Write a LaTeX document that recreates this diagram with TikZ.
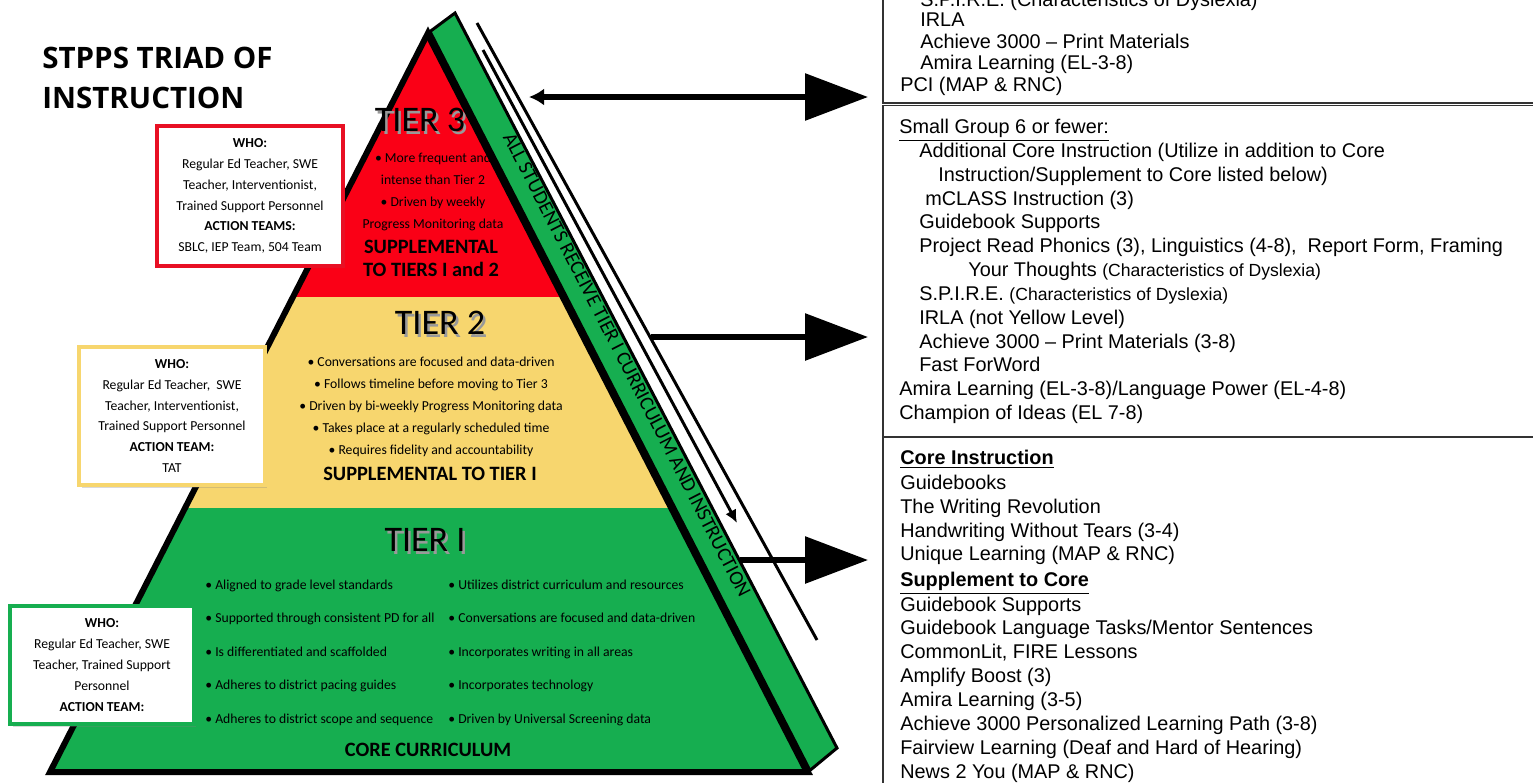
\documentclass[tikz,border=0pt]{standalone}
\usepackage{fontspec}
\setmainfont{Liberation Sans}
\newfontfamily\gillfont{Carlito}
\newfontfamily\headfont{Open Sans}
\usetikzlibrary{arrows.meta, shadows}

\definecolor{tierRed}{RGB}{250,0,22}
\definecolor{tierYellow}{RGB}{247,214,110}
\definecolor{tierGreen}{RGB}{22,174,80}
\definecolor{boxRed}{RGB}{232,16,36}

\tikzset{
    listtext/.style={anchor=west, inner sep=0pt, text height=0.72em, text depth=0pt, font=\fontsize{11.3}{13}\selectfont},
    whobox/.style={draw, line width=2.3pt, fill=white, align=center, inner sep=0pt, font=\gillfont\fontsize{7.8}{11.9}\selectfont, drop shadow={opacity=0.3, shadow xshift=0.05cm, shadow yshift=-0.05cm}},
    tiertext/.style={align=center, inner sep=0pt, font=\gillfont\fontsize{7.8}{12.6}\selectfont},
    tierlist/.style={anchor=west, inner sep=0pt, text height=0.72em, text depth=0pt, font=\gillfont\fontsize{7.8}{12}\selectfont},
    tierhead/.style={align=center, inner sep=0pt, font=\gillfont\bfseries\fontsize{11.6}{13.2}\selectfont},
    tierlabel/.style={inner sep=0pt, font=\gillfont\fontsize{20.5}{22}\selectfont},
    bandtext/.style={inner sep=0pt, font=\gillfont\fontsize{11.5}{12}\selectfont},
    bigarrow/.style={line width=3.4pt, -{Triangle[length=1.26cm, width=0.92cm]}},
    thinline/.style={line width=1.7pt},
    listbox/.style={line width=0.85pt, draw=black!80},
}

\newcommand{\listLine}[5][]{
    \node[listtext, #1] (#4) at (#2, #3) {#5};
}
\newcommand{\tierLabel}[4]{
    \node[tierlabel, text=black!40] (#3shade) at ([xshift=0.05cm, yshift=-0.05cm]#1, #2) {#4};
    \node[tierlabel] (#3) at (#1, #2) {#4};
}

\begin{document}
\begin{tikzpicture}[x=0.02cm, y=-0.02cm]
	\useasboundingbox (0,0) rectangle (1533,782);
	\clip (0,0) rectangle (1533,782);

	% pyramid corners
	\coordinate (apex) at (428,33);
	\coordinate (baseL) at (50,772);
	\coordinate (baseR) at (808,772);
	\coordinate (bandTop) at (455,13);
	\coordinate (bandBottom) at (837,748);

	% tiers
	\fill[tierRed] (apex) -- (564,297) -- (293,297) -- cycle;
	\fill[tierYellow] (293,297) -- (564,297) -- (672,508) -- (185,508) -- cycle;
	\fill[tierGreen] (185,508) -- (672,508) -- (baseR) -- (baseL) -- cycle;

	% side band
	\filldraw[fill=tierGreen, draw=black, line width=1.7pt, line join=miter] (apex) -- (bandTop) -- (bandBottom) -- (baseR) -- cycle;
	\draw[line width=3.4pt, line join=miter] (baseR) -- (baseL) -- (apex) -- cycle;
	\draw[line width=4.5pt] (apex) -- (baseR);
	\node[bandtext, rotate=-62.8] (bandLabel) at (627,365) {ALL STUDENTS RECEIVE TIER I CURRICULUM AND INSTRUCTION};

	% double line beside the band
	\coordinate (outerTop) at (477,23);
	\coordinate (outerBottom) at (817,640);
	\coordinate (innerTop) at (483,50);
	\coordinate (innerBottom) at (737,523);
	\draw[thinline] (outerTop) -- (outerBottom);
	\draw[thinline, -{Latex[length=0.26cm, width=0.24cm]}] (innerTop) -- (innerBottom);

	% title
	\node[anchor=base west, inner sep=0pt, font=\headfont\bfseries\fontsize{16.8}{20}\selectfont] (title1) at (42,68) {STPPS TRIAD OF};
	\node[anchor=base west, inner sep=0pt, font=\headfont\bfseries\fontsize{16.8}{20}\selectfont] (title2) at (42,108) {INSTRUCTION};

	% who boxes
	\node[whobox, draw=boxRed, minimum width=3.72cm, minimum height=2.8cm] (whoRed) at (250,196) {\textbf{WHO:}\\Regular Ed Teacher, SWE\\Teacher, Interventionist,\\Trained Support Personnel\\\textbf{ACTION TEAMS:}\\SBLC, IEP Team, 504 Team};
	\node[whobox, draw=tierYellow, minimum width=3.72cm, minimum height=2.76cm] (whoYellow) at (172,416) {\textbf{WHO:}\\Regular Ed Teacher,\ \ SWE\\Teacher, Interventionist,\\Trained Support Personnel\\\textbf{ACTION TEAM:}\\TAT};
	\node[whobox, draw=tierGreen, minimum width=3.68cm, minimum height=2.36cm] (whoGreen) at (102,665) {\textbf{WHO:}\\Regular Ed Teacher, SWE\\Teacher, Trained Support\\Personnel\\\textbf{ACTION TEAM:}};

	% tier 3
	\tierLabel{420}{120}{tierThree}{TIER 3}
	\node[tiertext] (tierThreeText) at (433,192) {\textbullet{} More frequent and\\intense than Tier 2\\\textbullet{} Driven by weekly\\Progress Monitoring data};
	\node[tierhead] (tierThreeHead) at (431,258) {SUPPLEMENTAL\\TO TIERS I and 2};

	% tier 2
	\tierLabel{440}{323}{tierTwo}{TIER 2}
	\node[tiertext] (tierTwoText) at (431,407) {\textbullet{} Conversations are focused and data-driven\\\textbullet{} Follows timeline before moving to Tier 3\\\textbullet{} Driven by bi-weekly Progress Monitoring data\\\textbullet{} Takes place at a regularly scheduled time\\\textbullet{} Requires fidelity and accountability};
	\node[tierhead] (tierTwoHead) at (430,474) {SUPPLEMENTAL TO TIER I};

	% tier 1
	\tierLabel{425}{540}{tierOne}{TIER I}
	\node[tierlist] (coreL1) at (205,583) {\textbullet{} Aligned to grade level standards};
	\node[tierlist] (coreL2) at (205,616) {\textbullet{} Supported through consistent PD for all};
	\node[tierlist] (coreL3) at (205,650) {\textbullet{} Is differentiated and scaffolded};
	\node[tierlist] (coreL4) at (205,683) {\textbullet{} Adheres to district pacing guides};
	\node[tierlist] (coreL5) at (205,717) {\textbullet{} Adheres to district scope and sequence};
	\node[tierlist] (coreR1) at (448,583) {\textbullet{} Utilizes district curriculum and resources};
	\node[tierlist] (coreR2) at (448,616) {\textbullet{} Conversations are focused and data-driven};
	\node[tierlist] (coreR3) at (448,650) {\textbullet{} Incorporates writing in all areas};
	\node[tierlist] (coreR4) at (448,683) {\textbullet{} Incorporates technology};
	\node[tierlist] (coreR5) at (448,717) {\textbullet{} Driven by Universal Screening data};
	\node[tierhead] (tierOneHead) at (428,750) {CORE CURRICULUM};

	% right boxes
	\draw[listbox] (883,-20) rectangle (1560,103);
	\draw[listbox] (883,105.5) rectangle (1560,437);
	\draw[listbox] (883,437) rectangle (1560,800);

	% arrows
	\coordinate (arrowTopStart) at (529,97);
	\coordinate (arrowTopEnd) at (868,97);
	\coordinate (arrowMidStart) at (651,337);
	\coordinate (arrowMidEnd) at (868,337);
	\coordinate (arrowLowStart) at (740,560);
	\coordinate (arrowLowEnd) at (868,560);
	\draw[bigarrow, {Latex[length=0.3cm, width=0.34cm]}-{Triangle[length=1.26cm, width=0.92cm]}] (arrowTopStart) -- (arrowTopEnd);
	\draw[bigarrow] (arrowMidStart) -- (arrowMidEnd);
	\draw[bigarrow] (arrowLowStart) -- (arrowLowEnd);

	% top box
	\listLine{920}{0}{spireTop}{S.P.I.R.E. (Characteristics of Dyslexia)}
	\listLine{920}{20}{irlaTop}{IRLA}
	\listLine{920}{42}{achieveTop}{Achieve 3000 – Print Materials}
	\listLine{920}{63}{amiraTop}{Amira Learning (EL-3-8)}
	\listLine{900}{85}{pciTop}{PCI (MAP \& RNC)}

	% small group box
	\listLine{899}{127}{smallGroup}{\underline{Small Group 6 or fewer:}}
	\listLine{919}{151}{addCore}{Additional Core Instruction (Utilize in addition to Core}
	\listLine{938}{175}{addCoreTwo}{Instruction/Supplement to Core listed below)}
	\listLine{925}{199}{mclass}{mCLASS Instruction (3)}
	\listLine{919}{222}{guideSup}{Guidebook Supports}
	\listLine{919}{246}{projectRead}{Project Read Phonics (3), Linguistics (4-8),\ \ Report Form, Framing}
	\listLine{968}{270}{yourThoughts}{Your Thoughts {\fontsize{10}{12}\selectfont(Characteristics of Dyslexia)}}
	\listLine{919}{294}{spire}{S.P.I.R.E. {\fontsize{10}{12}\selectfont(Characteristics of Dyslexia)}}
	\listLine{919}{318}{irla}{IRLA (not Yellow Level)}
	\listLine{919}{342}{achieve}{Achieve 3000 – Print Materials (3-8)}
	\listLine{919}{365}{fastWord}{Fast ForWord}
	\listLine{899}{389}{amira}{Amira Learning (EL-3-8)/Language Power (EL-4-8)}
	\listLine{899}{413}{champion}{Champion of Ideas (EL 7-8)}

	% core box
	\listLine{900}{458}{coreHead}{\textbf{\underline{Core Instruction}}}
	\listLine{900}{483}{guidebooks}{Guidebooks}
	\listLine{900}{507}{writing}{The Writing Revolution}
	\listLine{900}{531}{handwriting}{Handwriting Without Tears (3-4)}
	\listLine{900}{554}{unique}{Unique Learning (MAP \& RNC)}
	\listLine{900}{580}{suppHead}{\textbf{\underline{Supplement to Core}}}
	\listLine{900}{605}{guideSupTwo}{Guidebook Supports}
	\listLine{900}{628}{guideLang}{Guidebook Language Tasks/Mentor Sentences}
	\listLine{900}{652}{commonLit}{CommonLit, FIRE Lessons}
	\listLine{900}{676}{amplify}{Amplify Boost (3)}
	\listLine{900}{700}{amiraCore}{Amira Learning (3-5)}
	\listLine{900}{724}{achieveCore}{Achieve 3000 Personalized Learning Path (3-8)}
	\listLine{900}{748}{fairview}{Fairview Learning (Deaf and Hard of Hearing)}
	\listLine{900}{772}{news}{News 2 You (MAP \& RNC)}
\end{tikzpicture}
\end{document}
